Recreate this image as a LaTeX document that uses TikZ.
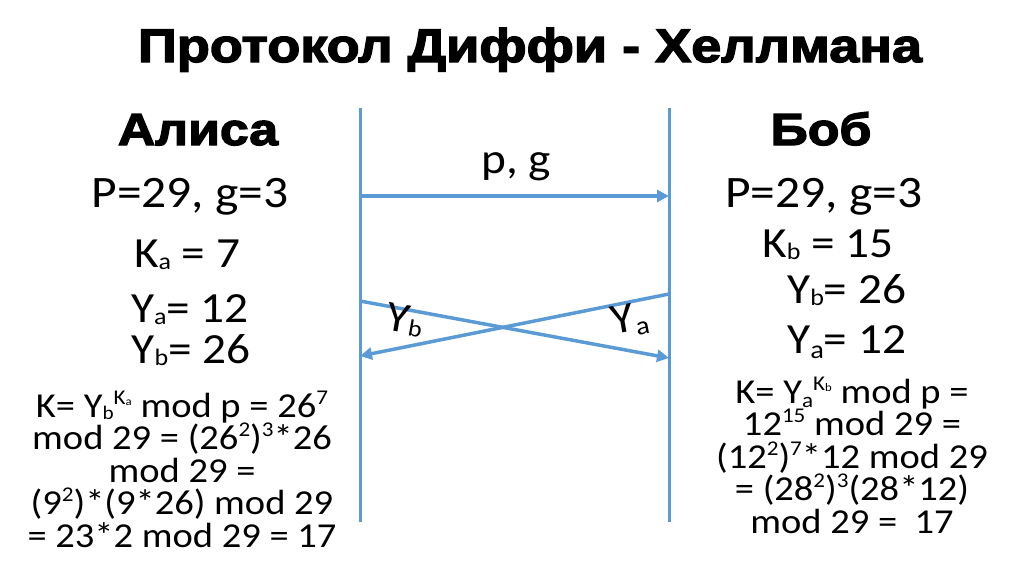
\documentclass[tikz,border=0pt]{standalone}
\usepackage{fontspec}
\usetikzlibrary{arrows.meta}
\setmainfont{Carlito}[FakeStretch=1.1]
\newfontfamily\heavyfont{Liberation Sans Bold}[FakeBold=3,FakeStretch=1.15]
\definecolor{lineblue}{RGB}{91,155,213}
\newcommand{\sub}[1]{\raisebox{-0.06em}{\scalebox{0.55}{#1}}}
\newcommand{\lsub}[1]{\raisebox{-0.12em}{\scalebox{0.6}{#1}}}
\newcommand{\sups}[1]{\raisebox{0.37em}{\scalebox{0.6}{#1}}}
\newcommand{\calcfont}{\fontsize{35}{32.5}\selectfont\lineskiplimit=-100pt\relax}

\begin{document}
\begin{tikzpicture}[x=1pt,y=-1pt]
\tikzset{
  lifeline/.style={draw=lineblue,line width=3pt},
  msg/.style={draw=lineblue,line width=3.5pt,-{Triangle[length=12pt,width=12pt]}},
  heading/.style={font=\heavyfont\fontsize{45}{54}\selectfont,anchor=base,inner sep=0pt},
  big/.style={font=\fontsize{43}{50}\selectfont,anchor=base,inner sep=0pt},
  calc/.style={font=\calcfont,align=center,anchor=base,inner sep=0pt}
}
\useasboundingbox (0,0) rectangle (1024,574);
% title
\node[heading,font=\heavyfont\fontsize{47}{56}\selectfont] (title) at (530,62) {Протокол Диффи - Хеллмана};
% Alice
\node[heading] (alice) at (198,145) {Алиса};
\node[big,font=\fontsize{45}{52}\selectfont] (ap) at (190,207) {P=29, g=3};
\node[big] (aka) at (187,267) {K\sub{a} = 7};
\node[big] (aya) at (190,322) {Y\sub{a}= 12};
\node[big] (ayb) at (191,363) {Y\sub{b}= 26};
\node[calc] (akey) at (182,547) {K= Y\sub{b}\sups{K\sub{a}} mod p = 26\sups{7}\\
  mod 29 = (26\sups{2})\sups{3}*26\\ mod 29 =\\ (9\sups{2})*(9*26) mod 29\\
  = 23*2 mod 29 = 17};
% Bob
\node[heading] (bob) at (821,145) {Боб};
\node[big,anchor=base west,font=\fontsize{45}{52}\selectfont] (bp) at (725,207) {P=29, g=3};
\node[big,anchor=base west] (bkb) at (762,257) {K\sub{b} = 15};
\node[big,anchor=base west] (byb) at (787,303) {Y\sub{b}= 26};
\node[big,anchor=base west] (bya) at (787,353) {Y\lsub{a}= 12};
\node[calc] (bkey) at (852,533) {K= Y\lsub{a}\sups{K\sub{b}} mod p =\\
  12\sups{15} mod 29 =\\ (12\sups{2})\sups{7}*12 mod 29\\ = (28\sups{2})\sups{3}(28*12)\\
  mod 29 = ~17};
% lifelines
\coordinate (atop) at (360,108);
\coordinate (abot) at (360,522);
\coordinate (btop) at (669,108);
\coordinate (bbot) at (669,522);
\draw[lifeline] (atop) -- (abot);
\draw[lifeline] (btop) -- (bbot);
% messages
\coordinate (a1) at (360,196);
\coordinate (b1) at (669,196);
\coordinate (a2) at (360,301);
\coordinate (b2) at (669,358);
\coordinate (b3) at (669,294);
\coordinate (a3) at (360,356);
\draw[msg] (a1) -- (b1);
\draw[msg] (a2) -- (b2);
\draw[msg] (b3) -- (a3);
\node[big] (pg) at (516,173) {p, g};
\node[big,anchor=center,rotate=-10] (yb) at (405,320) {Y\sub{b}};
\node[big,anchor=center,rotate=10] (ya) at (630,320) {Y\lsub{a}};
\end{tikzpicture}
\end{document}
